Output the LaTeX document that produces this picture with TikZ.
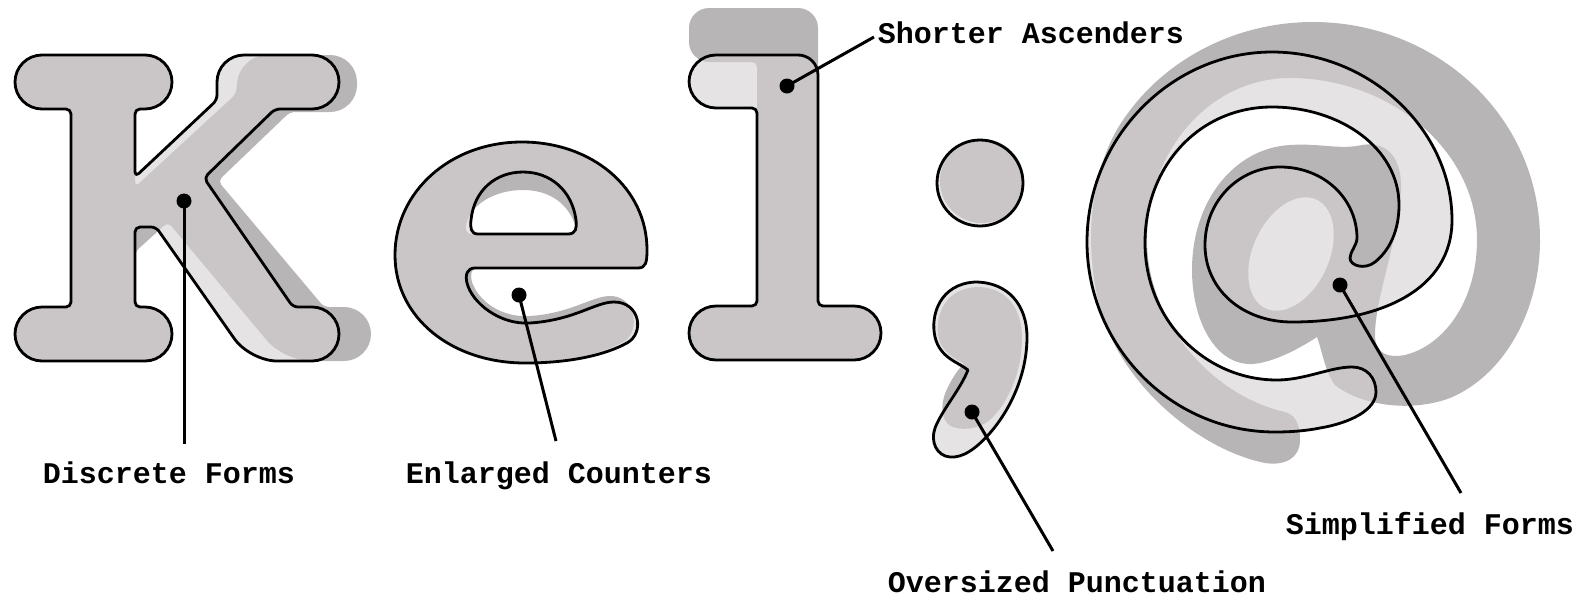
\documentclass[tikz,border=0pt]{standalone}
\usepackage{fontspec}
\setmainfont{Liberation Mono}

\definecolor{shadegray}{HTML}{B8B5B6}
\definecolor{palegray}{HTML}{E5E3E4}
\definecolor{glyphgray}{HTML}{CAC6C7}

\tikzset{
    outline/.style = {draw=black, line width=2.8pt, line join=round},
    leader/.style = {line width=3pt},
    dotmark/.style = {circle, fill=black, inner sep=0pt, minimum size=15pt},
    lab/.style = {font=\fontsize{30pt}{36pt}\selectfont\bfseries, inner sep=0pt, anchor=base}
}

% outlines of the new forms and of the old forms behind them
\newcommand{\newK}{(90,55) [rounded corners=27pt] -- (172,55) -- (172,109)
    [rounded corners=5pt] -- (135,109) -- (135,177) -- (217,100)
    [rounded corners=27pt] -- (217,55) -- (339,55) -- (339,109)
    [rounded corners=5pt] -- (275,109) -- (204,178) -- (293,307)
    [rounded corners=27pt] -- (339,307) -- (339,361) -- (250,361)
    [rounded corners=5pt] -- (156,227) -- (135,227) -- (135,307)
    [rounded corners=27pt] -- (172,307) -- (172,361) -- (15,361) -- (15,307)
    [rounded corners=5pt] -- (71,307) -- (71,109)
    [rounded corners=27pt] -- (15,109) -- (15,55) -- cycle}
\newcommand{\oldK}{(90,55) [rounded corners=27pt] -- (172,55) -- (172,109)
    [rounded corners=5pt] -- (135,109) -- (135,187) -- (236,94)
    [rounded corners=27pt] -- (240,55) -- (357,55) -- (357,112)
    [rounded corners=5pt] -- (290,112) -- (218,181) -- (324,307)
    [rounded corners=27pt] -- (371,307) -- (371,361) -- (284,361)
    [rounded corners=5pt] -- (168,222) -- (135,252) -- (135,307)
    [rounded corners=27pt] -- (172,307) -- (172,361) -- (15,361) -- (15,307)
    [rounded corners=5pt] -- (71,307) -- (71,109)
    [rounded corners=27pt] -- (15,109) -- (15,55) -- cycle}

\newcommand{\newE}{(647,250) .. controls (647,188) and (592,142) .. (522,142)
    .. controls (450,142) and (395,192) .. (395,255)
    .. controls (395,318) and (452,363) .. (525,363)
    .. controls (570,363) and (605,355) .. (627,343)
    .. controls (645,333) and (640,302) .. (614,302)
    .. controls (595,302) and (575,320) .. (530,323)
    .. controls (500,325) and (472,303) .. (467,283)
    .. controls (465,275) and (467,268) .. (475,268)
    -- (638,268) .. controls (646,268) and (647,262) .. (647,250) -- cycle
    (478,234) -- (568,234) .. controls (576,234) and (577,228) .. (576,220)
    .. controls (572,190) and (550,172) .. (523,172)
    .. controls (496,172) and (474,190) .. (471,220)
    .. controls (470,228) and (471,234) .. (478,234) -- cycle}
\newcommand{\oldE}{(647,250) .. controls (647,188) and (592,142) .. (522,142)
    .. controls (450,142) and (395,192) .. (395,255)
    .. controls (395,318) and (452,363) .. (525,363)
    .. controls (570,363) and (603,353) .. (625,341)
    .. controls (640,330) and (636,298) .. (612,296)
    .. controls (593,295) and (573,313) .. (530,316)
    .. controls (500,318) and (478,300) .. (472,282)
    .. controls (470,274) and (471,268) .. (478,268)
    -- (638,268) .. controls (646,268) and (647,262) .. (647,250) -- cycle
    (472,234) -- (570,234) .. controls (576,234) and (576,228) .. (574,222)
    .. controls (566,202) and (548,190) .. (523,190)
    .. controls (494,190) and (470,205) .. (466,225)
    .. controls (465,231) and (467,234) .. (472,234) -- cycle}

\newcommand{\newL}{(760,55) [rounded corners=20pt] -- (818,55)
    [rounded corners=5pt] -- (818,306)
    [rounded corners=27pt] -- (881,306) -- (881,360) -- (689,360) -- (689,306)
    [rounded corners=5pt] -- (757,306) -- (757,108)
    [rounded corners=27pt] -- (689,108) -- (689,55) -- cycle}
\newcommand{\oldL}{(760,8) [rounded corners=20pt] -- (818,8)
    [rounded corners=5pt] -- (818,306)
    [rounded corners=27pt] -- (881,306) -- (881,360) -- (689,360) -- (689,306)
    [rounded corners=5pt] -- (757,306) -- (757,62)
    [rounded corners=20pt] -- (689,62) -- (689,8) -- cycle}

\newcommand{\newSemi}{(980,183) circle [radius=43]
    (975,282) .. controls (1008,282) and (1027,305) .. (1027,337)
    .. controls (1027,375) and (1010,410) .. (990,433)
    .. controls (975,450) and (962,458) .. (950,457)
    .. controls (937,456) and (930,442) .. (935,428)
    .. controls (942,410) and (960,390) .. (968,370)
    .. controls (958,362) and (940,358) .. (935,337)
    .. controls (930,315) and (940,284) .. (975,282) -- cycle}
\newcommand{\oldSemi}{(982,181) circle [radius=42]
    (977,287) .. controls (1006,287) and (1022,308) .. (1022,338)
    .. controls (1022,372) and (1008,402) .. (992,418)
    .. controls (980,430) and (957,432) .. (948,424)
    .. controls (940,416) and (941,400) .. (948,387)
    .. controls (953,377) and (958,369) .. (964,364)
    .. controls (954,358) and (941,352) .. (938,335)
    .. controls (935,312) and (948,288) .. (977,287) -- cycle}

\newcommand{\newAt}{(1376,392)
    .. controls (1376,410) and (1350,423) .. (1320,428)
    .. controls (1305,431) and (1290,432) .. (1275,432)
    .. controls (1170,432) and (1087,345) .. (1087,242)
    .. controls (1087,137) and (1172,52) .. (1272,52)
    .. controls (1370,52) and (1452,130) .. (1452,220)
    .. controls (1452,290) and (1380,322) .. (1292,322)
    .. controls (1243,322) and (1205,290) .. (1205,245)
    .. controls (1205,200) and (1240,167) .. (1280,167)
    .. controls (1325,167) and (1357,200) .. (1357,238)
    .. controls (1357,245) and (1350,252) .. (1350,258)
    .. controls (1350,266) and (1365,270) .. (1375,262)
    .. controls (1390,250) and (1399,230) .. (1399,205)
    .. controls (1399,148) and (1340,107) .. (1272,107)
    .. controls (1200,107) and (1145,165) .. (1145,243)
    .. controls (1145,320) and (1205,380) .. (1277,380)
    .. controls (1305,380) and (1330,367) .. (1352,367)
    .. controls (1367,367) and (1376,378) .. (1376,392) -- cycle}
\newcommand{\oldAt}{(1300,440)
    .. controls (1300,458) and (1285,466) .. (1265,463)
    .. controls (1200,450) and (1120,385) .. (1100,307)
    .. controls (1082,240) and (1092,165) .. (1123,120)
    .. controls (1165,58) and (1237,22) .. (1313,22)
    .. controls (1435,22) and (1540,115) .. (1540,240)
    .. controls (1540,310) and (1505,375) .. (1450,398)
    .. controls (1410,413) and (1360,405) .. (1335,385)
    .. controls (1325,372) and (1322,350) .. (1317,337)
    .. controls (1300,348) and (1275,362) .. (1253,364)
    .. controls (1215,366) and (1192,320) .. (1192,270)
    .. controls (1192,200) and (1235,148) .. (1290,145)
    .. controls (1320,143) and (1340,150) .. (1362,145)
    .. controls (1392,140) and (1405,165) .. (1400,200)
    .. controls (1395,250) and (1375,300) .. (1375,335)
    .. controls (1375,355) and (1390,358) .. (1405,355)
    .. controls (1445,345) and (1477,300) .. (1477,240)
    .. controls (1477,150) and (1390,78) .. (1290,78)
    .. controls (1210,78) and (1147,150) .. (1147,240)
    .. controls (1147,320) and (1210,395) .. (1285,412)
    .. controls (1298,416) and (1300,428) .. (1300,440) -- cycle}

\begin{document}
\begin{tikzpicture}[x=1pt, y=-1pt]
    \useasboundingbox (0,0) rectangle (1583,598);

    % old form, new form, and where the two overlap
    \foreach \oldg/\newg in {\oldK/\newK, \oldE/\newE, \oldL/\newL, \oldSemi/\newSemi, \oldAt/\newAt} {
        \fill[shadegray, even odd rule] \oldg;
        \fill[palegray, even odd rule] \newg;
        \begin{scope}[even odd rule]
            \clip \oldg;
            \fill[glyphgray] \newg;
        \end{scope}
    } %end foreach

    % counter of the old bowl
    \fill[palegray, rotate around={-25:(1291,254)}] (1291,254) ellipse [x radius=38, y radius=60];

    \foreach \newg in {\newK, \newE, \newL, \newSemi, \newAt} {
        \draw[outline, even odd rule] \newg;
    } %end foreach

    % labels
    \node[lab] (labK) at (169,483) {Discrete Forms};
    \node[lab] (labE) at (559,483) {Enlarged Counters};
    \node[lab] (labL) at (1031,43) {Shorter Ascenders};
    \node[lab] (labSemi) at (1077,592) {Oversized Punctuation};
    \node[lab] (labAt) at (1430,534) {Simplified Forms};

    % leaders
    \node[dotmark] (dotK) at (184,201) {};
    \node[dotmark] (dotE) at (519,295) {};
    \node[dotmark] (dotL) at (787,86) {};
    \node[dotmark] (dotSemi) at (972,412) {};
    \node[dotmark] (dotAt) at (1340,285) {};

    \coordinate (tipK) at (184,444);
    \coordinate (tipE) at (556,441);
    \coordinate (tipL) at (874,37);
    \coordinate (tipSemi) at (1053,551);
    \coordinate (tipAt) at (1461,493);

    \foreach \g in {K, E, L, Semi, At} {
        \draw[leader] (dot\g.center) -- (tip\g);
    } %end foreach

\end{tikzpicture}
\end{document}
